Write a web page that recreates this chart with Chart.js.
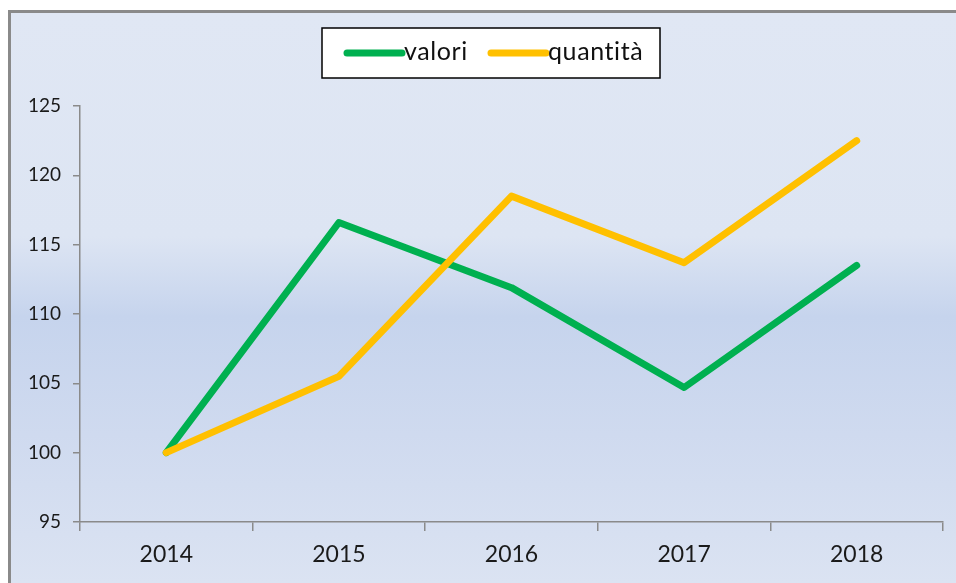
<!DOCTYPE html>
<html>
<head>
<meta charset="utf-8">
<script src="https://cdn.jsdelivr.net/npm/chart.js@4"></script>
<style>
  html, body { margin: 0; padding: 0; background: #fff; overflow: hidden; }
  #panel {
    position: absolute; left: 8px; top: 10px; width: 1000px; height: 620px;
    border: 3px solid #8a8a8a;
    background: linear-gradient(to bottom, #e0e7f4 0%, #dde5f3 36%, #c6d4ed 49%, #cfdaef 68%, #dfe6f3 100%);
  }
  #salesChart { position: absolute; left: 0; top: 0; }
</style>
</head>
<body>
<div id="panel"></div>
<canvas id="salesChart" width="956" height="583"></canvas>
<script>
const years = ['2014', '2015', '2016', '2017', '2018'];
const valori = [100, 116.6, 111.9, 104.7, 113.5];
const quantita = [100, 105.5, 118.5, 113.7, 122.5];
const yTicks = [95, 100, 105, 110, 115, 120, 125];

const green = '#00b050';
const yellow = '#ffc000';
const axisGray = '#8a8a8a';

// legend box like the excel one (white, black border)
const legendBox = {
  id: 'legendBox',
  afterDraw(chart) {
    const c = chart.ctx;
    c.save();
    c.fillStyle = '#fff';
    c.strokeStyle = '#000';
    c.lineWidth = 1.5;
    c.fillRect(322, 28, 338, 50);
    c.strokeRect(322, 28, 338, 50);
    const starts = [347, 491];
    chart.data.datasets.forEach((ds, i) => {
      const x = starts[i];
      c.beginPath();
      c.lineCap = 'round';
      c.lineWidth = 7;
      c.strokeStyle = ds.borderColor;
      c.moveTo(x, 53);
      c.lineTo(x + 55, 53);
      c.stroke();
      c.fillStyle = '#111';
      c.font = '25px Lato';
      c.letterSpacing = '0.6px';
      c.textBaseline = 'middle';
      c.fillText(ds.label, x + 57, 52);
    });
    c.restore();
  }
};

function draw() {
  const ctx = document.getElementById('salesChart').getContext('2d');
  new Chart(ctx, {
    type: 'line',
    data: {
      labels: years,
      datasets: [{
        label: 'valori',
        data: valori,
        borderColor: green,
        backgroundColor: green,
        borderWidth: 7,
        borderCapStyle: 'round',
        borderJoinStyle: 'round',
        pointRadius: 0,
        tension: 0,
        order: 1
      }, {
        label: 'quantità',
        data: quantita,
        borderColor: yellow,
        backgroundColor: yellow,
        borderWidth: 7,
        borderCapStyle: 'round',
        borderJoinStyle: 'round',
        pointRadius: 0,
        tension: 0,
        order: 0
      }]
    },
    options: {
      responsive: false,
      animation: false,
      layout: { padding: { left: 0, right: 13, top: 106, bottom: 0 } },
      plugins: {
        legend: { display: false },
        tooltip: { enabled: false }
      },
      scales: {
        x: {
          offset: true,
          afterFit: s => { s.height = 61; },
          grid: { offset: true, drawOnChartArea: false, tickLength: 9, color: axisGray, lineWidth: 1.5 },
          border: { color: axisGray, width: 1.5 },
          ticks: { color: '#1a1a1a', font: { family: 'Lato', size: 23 }, padding: 10 }
        },
        y: {
          min: 95,
          max: 125,
          afterFit: s => { s.width = 80; },
          afterBuildTicks: s => { s.ticks = yTicks.map(v => ({ value: v })); },
          grid: { drawOnChartArea: false, tickLength: 7, color: axisGray, lineWidth: 1.5 },
          border: { color: axisGray, width: 1.5 },
          ticks: { color: '#1a1a1a', font: { family: 'Lato', size: 19 }, padding: 12 }
        }
      }
    },
    plugins: [legendBox]
  });
}

document.fonts.load('25px Lato').then(draw, draw);
</script>
</body>
</html>
